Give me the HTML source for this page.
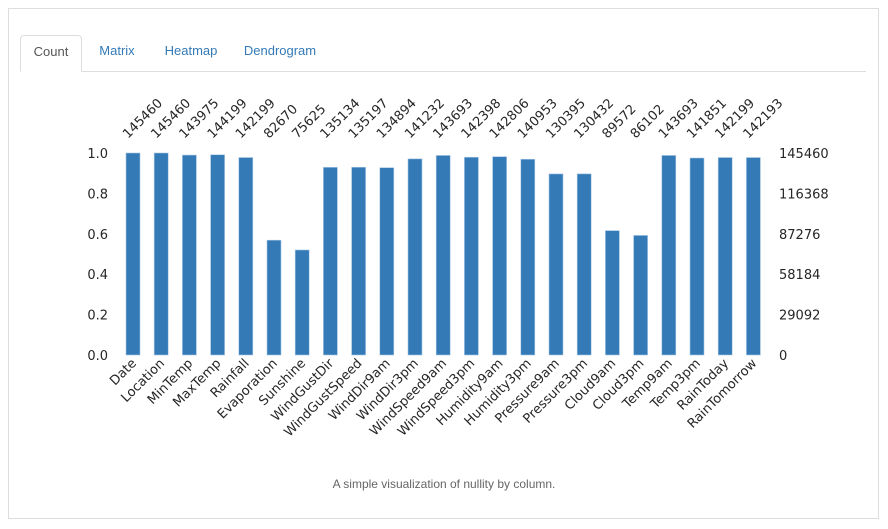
<!DOCTYPE html>
<html><head><meta charset="utf-8"><style>
body{margin:0;background:#fff;width:888px;height:529px;overflow:hidden;font-family:"Liberation Sans",sans-serif}
#box{position:absolute;left:8px;top:8px;width:871px;height:511px;border:1px solid #ddd;box-sizing:border-box}
.tabs{position:absolute;left:20px;top:35px;width:846px;height:37px;border-bottom:1px solid #ddd;box-sizing:border-box}
.tab{position:absolute;top:0;height:37px;line-height:32px;font-size:13px;color:#337ab7;text-align:center}
.tab.active{color:#555;border:1px solid #ddd;border-bottom:1px solid #fff;border-radius:4px 4px 0 0;background:#fff;box-sizing:border-box}
#cap{position:absolute;left:0;width:888px;top:477px;text-align:center;font-size:12px;color:#666}
svg{position:absolute;left:0;top:0}
</style></head><body>
<div id="box"></div>
<div class="tabs">
<div class="tab active" style="left:0;width:62px">Count</div>
<div class="tab" style="left:68px;width:58px">Matrix</div>
<div class="tab" style="left:136px;width:70px">Heatmap</div>
<div class="tab" style="left:212px;width:96px">Dendrogram</div>
</div>
<svg id="chart" width="888" height="529"></svg>
<div id="cap">A simple visualization of nullity by column.</div>
<script>
const categories=["Date","Location","MinTemp","MaxTemp","Rainfall","Evaporation","Sunshine","WindGustDir","WindGustSpeed","WindDir9am","WindDir3pm","WindSpeed9am","WindSpeed3pm","Humidity9am","Humidity3pm","Pressure9am","Pressure3pm","Cloud9am","Cloud3pm","Temp9am","Temp3pm","RainToday","RainTomorrow"];
const counts=[145460,145460,143975,144199,142199,82670,75625,135134,135197,134894,141232,143693,142398,142806,140953,130395,130432,89572,86102,143693,141851,142199,142193];
const leftTicks=["0.0","0.2","0.4","0.6","0.8","1.0"];
const rightTicks=["0","29092","58184","87276","116368","145460"];
const total=145460;
const NS="http://www.w3.org/2000/svg";
const svg=document.getElementById('chart');
const y0=355,y1=153,x0=126,step=28.2,bw=14;
const yS=v=>y0-(y0-y1)*v;
const xS=i=>x0+i*step;
function mk(t,a){const e=document.createElementNS(NS,t);for(const k in a)e.setAttribute(k,a[k]);svg.appendChild(e);return e;}
const font='"DejaVu Sans",sans-serif';
leftTicks.forEach((t,i)=>{const e=mk('text',{x:108,y:yS(i/5)+5,'text-anchor':'end','font-size':13,'font-family':font,fill:'#262626'});e.textContent=t;

});
rightTicks.forEach((t,i)=>{const e=mk('text',{x:779,y:yS(i/5)+5,'font-size':13,'font-family':font,fill:'#262626'});e.textContent=t;

});
categories.forEach((c,i)=>{
const v=counts[i]/total,x=xS(i);
const r=mk('rect',{x:x,y:yS(v),width:bw,height:y0-yS(v),fill:'#337ab7',stroke:'#a9c6e3','stroke-width':0.6});


const cx=x+bw/2;
const t=mk('text',{x:cx-5,y:139,'font-size':13,'font-family':font,fill:'#262626',transform:`rotate(-45 ${cx-5} 139)`});t.textContent=counts[i];


const l=mk('text',{x:cx+4,y:364,'text-anchor':'end','font-size':13,'font-family':font,fill:'#262626',transform:`rotate(-45 ${cx+4} 364)`});l.textContent=c;


});
</script>
</body></html>
